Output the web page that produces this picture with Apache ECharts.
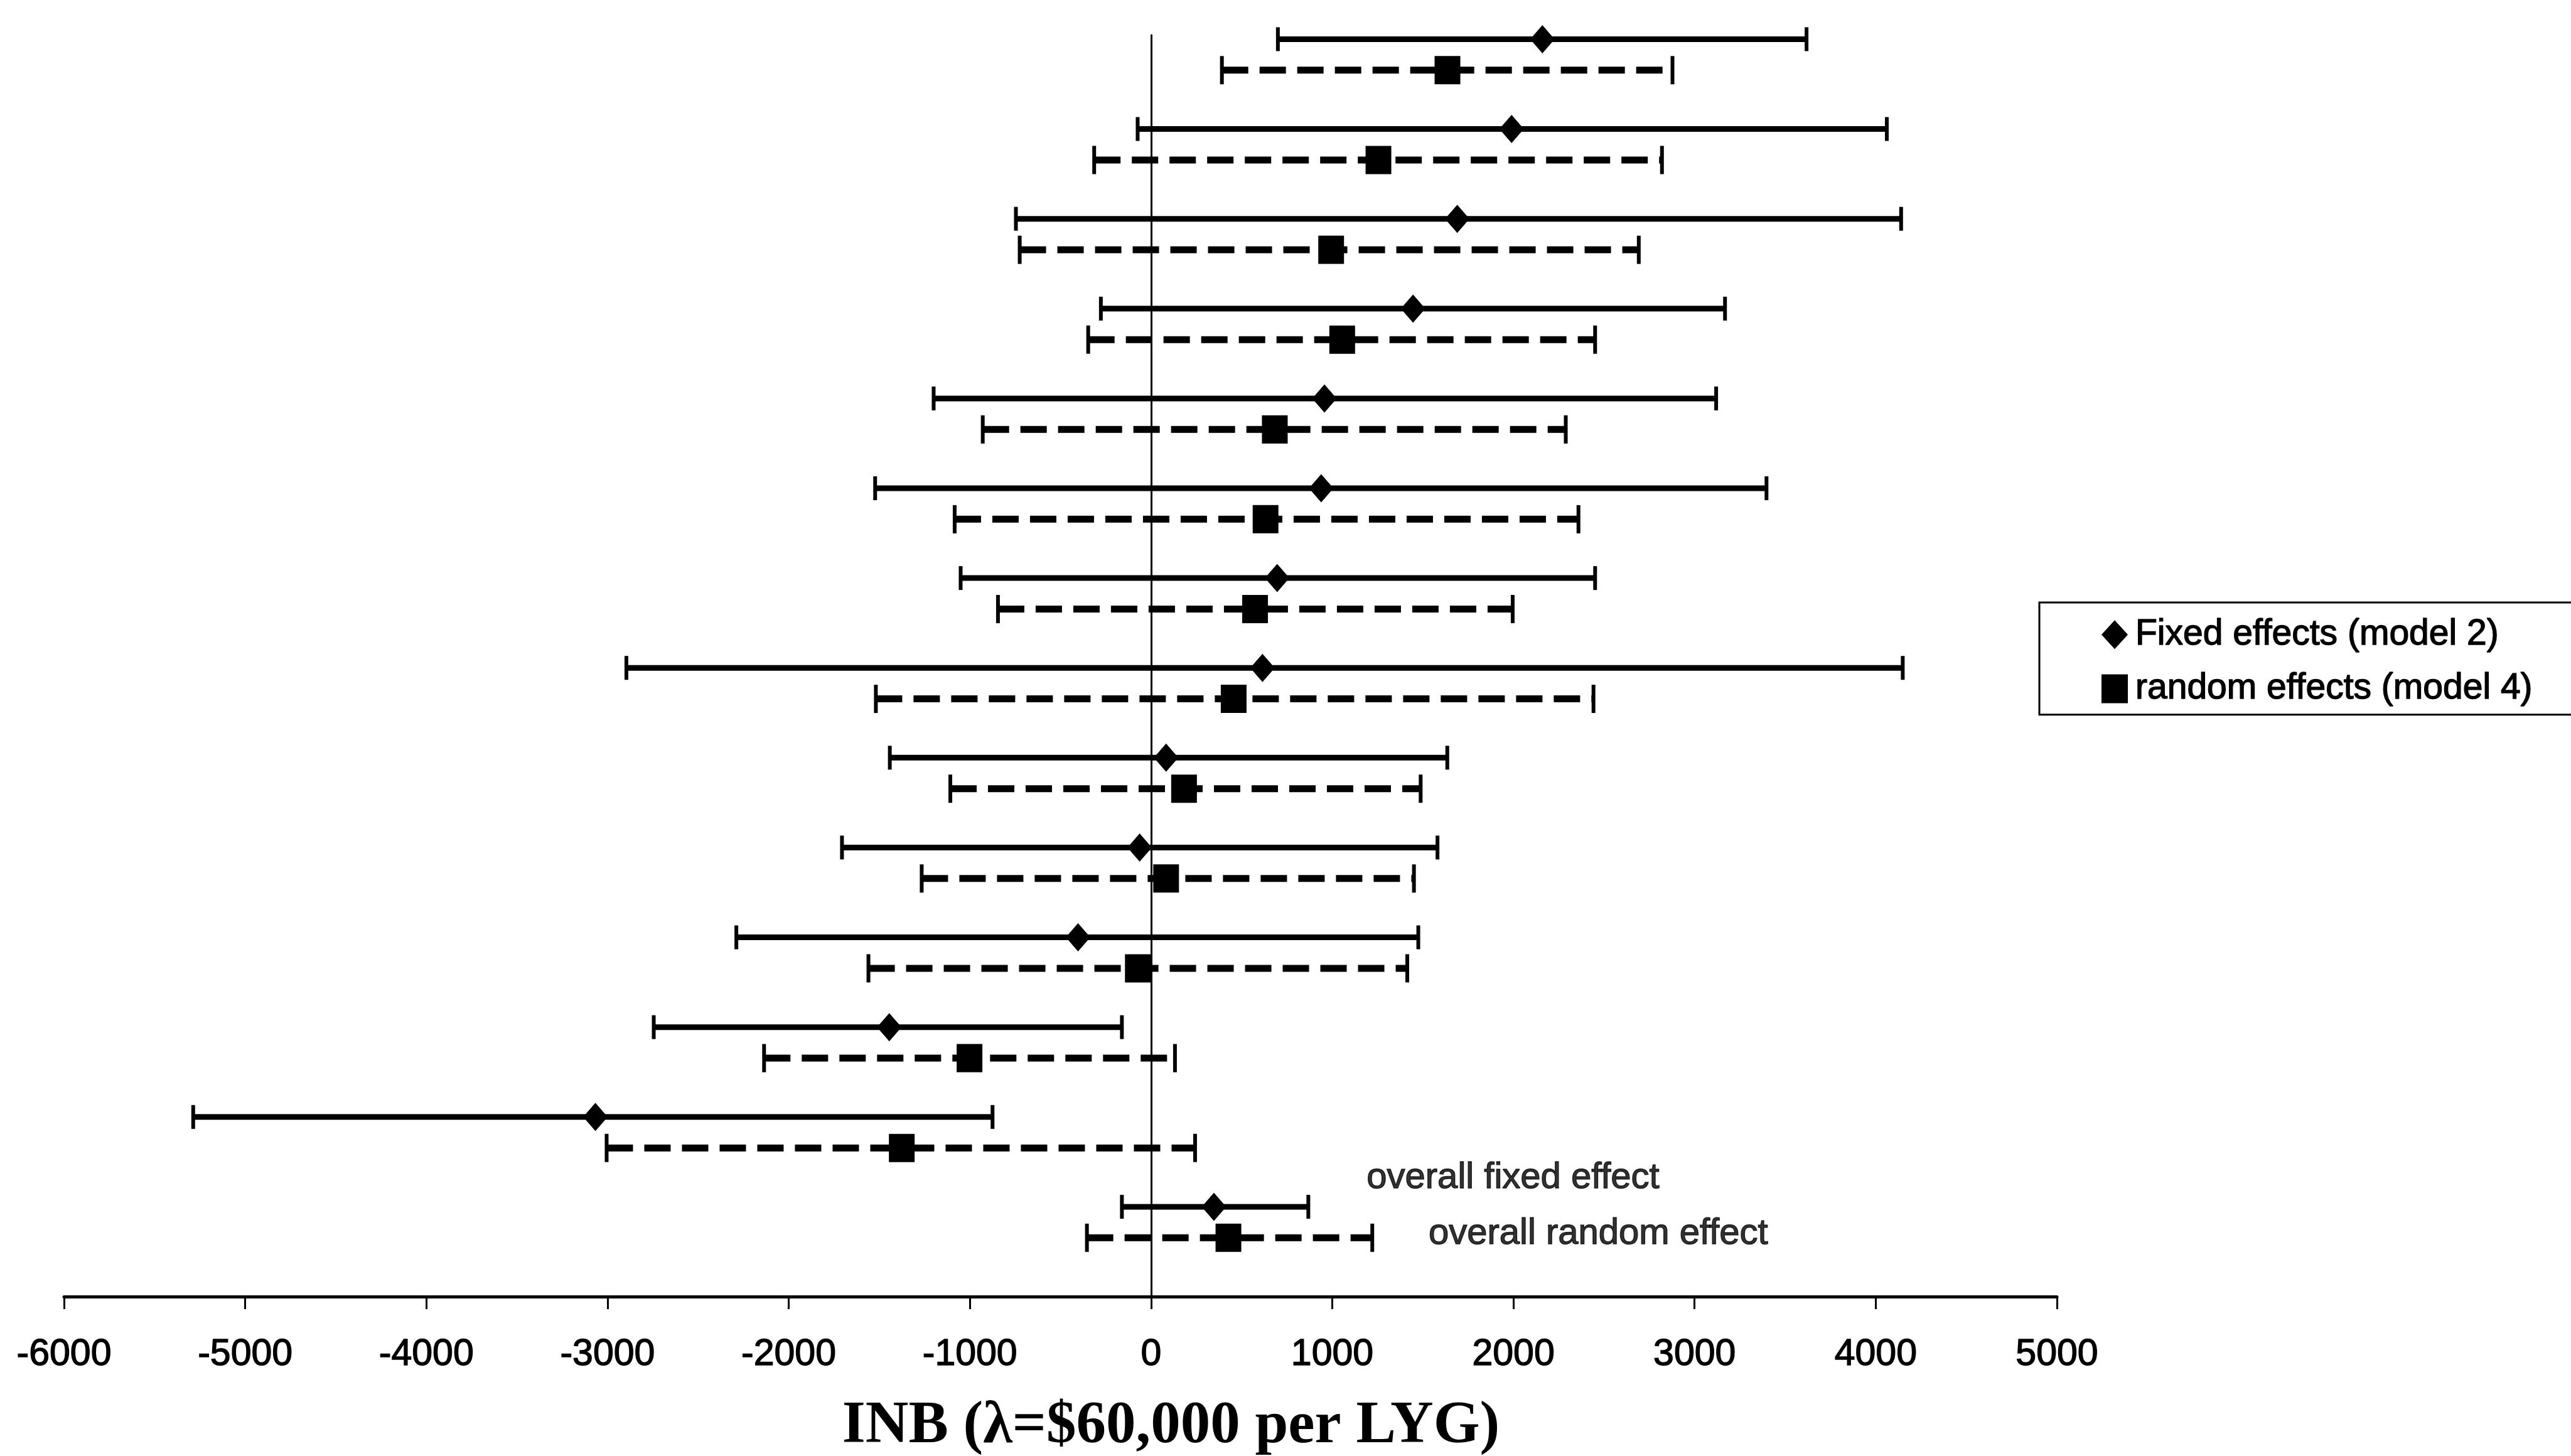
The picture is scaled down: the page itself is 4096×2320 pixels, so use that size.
<!DOCTYPE html>
<html>
<head>
<meta charset="utf-8">
<script src="https://cdn.jsdelivr.net/npm/echarts@6/dist/echarts.min.js"></script>
<style>
  html, body { margin: 0; padding: 0; background: #fff; }
  #main { width: 4096px; height: 2320px; }
</style>
</head>
<body>
<div id="main"></div>
<script>
// ---------------- data ----------------
// rows top -> bottom: 13 studies, then the overall estimate
const rowPos = [0, 1, 2, 3, 4, 5, 6, 7, 8, 9, 10, 11, 12, 13];
const randomRowShift = 0.345;

const fixedLow  = [700, -74, -746, -277, -1200, -1523, -1051, -2896, -1442, -1706, -2289, -2745, -5287, -161];
const fixedEst  = [2160, 1990, 1690, 1446, 957, 939, 696, 615, 83, -63, -403, -1445, -3067, 347];
const fixedHigh = [3618, 4061, 4140, 3168, 3119, 3397, 2451, 4149, 1635, 1581, 1475, -161, -875, 868];

const randomLow  = [391, -314, -725, -347, -929, -1084, -845, -1519, -1108, -1266, -1560, -2136, -3005, -354];
const randomEst  = [1636, 1255, 994, 1055, 683, 632, 574, 456, 182, 83, -73, -1002, -1376, 427];
const randomHigh = [2878, 2820, 2692, 2451, 2289, 2359, 1996, 2442, 1488, 1451, 1414, 132, 243, 1221];

const seriesNames = ['Fixed effects (model 2)', 'random effects (model 4)'];
const xTicks = { min: -6000, max: 5000, step: 1000 };
const xTitle = 'INB (\u03bb=$60,000 per LYG)';

const noteText = ['overall fixed effect', 'overall random effect'];
const noteX = [1190, 1532];
const noteY = [12.68, 13.3];

// ---------------- chart ----------------
const SANS = "'Liberation Sans', Arial, sans-serif";
const SERIF = "'Liberation Serif', 'Times New Roman', serif";
const INK = { textBorderColor: '#000', textBorderWidth: 1.4 };

function barRenderer(lineWidth, capHeight, capWidth, dash) {
  return function (params, api) {
    const y = api.value(2);
    const lo = api.coord([api.value(0), y]);
    const hi = api.coord([api.value(1), y]);
    const h = capHeight / 2;
    return {
      type: 'group',
      children: [
        { type: 'line', shape: { x1: lo[0], y1: lo[1], x2: hi[0], y2: hi[1] },
          style: { stroke: '#000', lineWidth: lineWidth, lineDash: dash, lineCap: 'butt' } },
        { type: 'line', shape: { x1: lo[0], y1: lo[1] - h, x2: lo[0], y2: lo[1] + h },
          style: { stroke: '#000', lineWidth: capWidth } },
        { type: 'line', shape: { x1: hi[0], y1: hi[1] - h, x2: hi[0], y2: hi[1] + h },
          style: { stroke: '#000', lineWidth: capWidth } }
      ]
    };
  };
}

const fixedBars = fixedLow.map((lo, i) => [lo, fixedHigh[i], rowPos[i]]);
const randomBars = randomLow.map((lo, i) => [lo, randomHigh[i], rowPos[i] + randomRowShift]);
const fixedPts = fixedEst.map((v, i) => [v, rowPos[i]]);
const randomPts = randomEst.map((v, i) => [v, rowPos[i] + randomRowShift]);
const notes = noteText.map((t, i) => ({ name: t, value: [noteX[i], noteY[i]] }));

const chart = echarts.init(document.getElementById('main'), null, { renderer: 'canvas' });
chart.setOption({
  animation: false,
  backgroundColor: '#ffffff',
  grid: { left: 102, right: 819, top: 56, bottom: 254, containLabel: false, outerBoundsMode: 'none' },
  legend: {
    orient: 'vertical',
    left: 3249,
    top: 960,
    padding: [22, 220, 12, 99],
    borderColor: '#000',
    borderWidth: 3,
    backgroundColor: '#fff',
    itemWidth: 42,
    itemHeight: 46,
    itemGap: 28,
    selectedMode: false,
    data: [
      { name: seriesNames[0], icon: 'diamond' },
      { name: seriesNames[1], icon: 'rect' }
    ],
    textStyle: Object.assign({ color: '#000', fontFamily: SANS, fontSize: 57, padding: [0, 0, 0, 7] }, INK)
  },
  xAxis: {
    type: 'value',
    min: xTicks.min,
    max: xTicks.max,
    interval: xTicks.step,
    name: xTitle,
    nameLocation: 'middle',
    nameGap: 160,
    nameTextStyle: { fontFamily: SERIF, fontSize: 95, fontWeight: 'bold', color: '#000', padding: [0, 0, 0, 352], lineHeight: 95 },
    axisLine: { onZero: false, lineStyle: { color: '#000', width: 5 } },
    axisTick: { show: true, length: 20, lineStyle: { color: '#000', width: 3 } },
    axisLabel: Object.assign({
      margin: 63, fontFamily: SANS, fontSize: 59, color: '#000', lineHeight: 59,
      formatter: v => String(v)
    }, INK),
    splitLine: { show: false }
  },
  yAxis: {
    type: 'value',
    inverse: true,
    min: -0.045,
    max: 14.0,
    axisLine: { show: true, onZero: true, lineStyle: { color: '#000', width: 3 } },
    axisTick: { show: false },
    axisLabel: { show: false },
    splitLine: { show: false }
  },
  series: [
    {
      name: 'fixed interval', type: 'custom', z: 2,
      renderItem: barRenderer(9, 38, 6, null),
      encode: { x: [0, 1], y: 2 },
      data: fixedBars, silent: true
    },
    {
      name: 'random interval', type: 'custom', z: 2,
      renderItem: barRenderer(11, 45, 6, [42, 18]),
      encode: { x: [0, 1], y: 2 },
      data: randomBars, silent: true
    },
    {
      name: seriesNames[0], type: 'scatter', z: 3,
      symbol: 'diamond', symbolSize: [39, 45],
      itemStyle: { color: '#000', opacity: 1 },
      data: fixedPts
    },
    {
      name: seriesNames[1], type: 'scatter', z: 3,
      symbol: 'rect', symbolSize: [41, 45],
      itemStyle: { color: '#000', opacity: 1 },
      data: randomPts
    },
    {
      name: 'notes', type: 'scatter', z: 4,
      symbol: 'circle', symbolSize: 0,
      data: notes,
      label: Object.assign({
        show: true, position: 'right', distance: 0,
        formatter: p => p.name,
        fontFamily: SANS, fontSize: 58, color: '#000'
      }, INK),
      silent: true
    }
  ]
});
</script>
</body>
</html>
